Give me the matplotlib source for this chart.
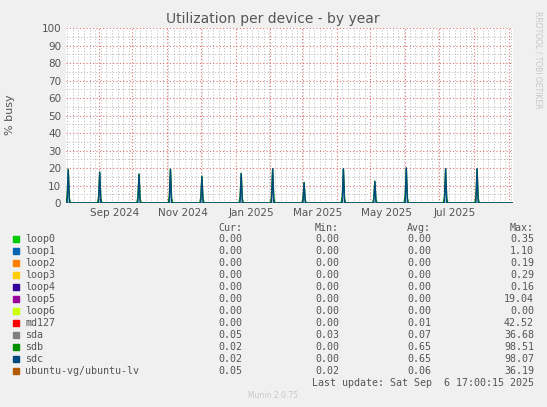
import matplotlib
matplotlib.use("Agg")
import matplotlib.pyplot as plt
import matplotlib.dates as mdates
import numpy as np
import datetime as dt

# --- data ---
spike_dates = ["2024-08-05", "2024-09-02", "2024-10-07", "2024-11-04", "2024-12-02",
               "2025-01-06", "2025-02-03", "2025-03-03", "2025-04-07", "2025-05-05",
               "2025-06-02", "2025-07-07", "2025-08-04"]
sdb_peaks = [19.4, 17.7, 16.6, 19.4, 15.4, 17.0, 19.4, 11.8, 19.4, 12.5, 20.0, 19.4, 19.4]
sdc_peaks = [19.0, 17.5, 16.4, 19.2, 15.0, 16.8, 19.6, 11.6, 19.6, 12.3, 20.0, 19.6, 19.6]
names = ["loop0", "loop1", "loop2", "loop3", "loop4", "loop5", "loop6", "md127",
         "sda", "sdb", "sdc", "ubuntu-vg/ubuntu-lv"]
colors = ["#00cc00", "#0066b3", "#ff8000", "#ffcc00", "#330099", "#990099",
          "#ccff00", "#ff0000", "#808080", "#008f00", "#00487d", "#b35a00"]
cur = ["0.00"] * 8 + ["0.05", "0.02", "0.02", "0.05"]
mins = ["0.00"] * 8 + ["0.03", "0.00", "0.00", "0.02"]
avgs = ["0.00"] * 7 + ["0.01", "0.07", "0.65", "0.65", "0.06"]
maxs = ["0.35", "1.10", "0.19", "0.29", "0.16", "19.04", "0.00", "42.52",
        "36.68", "98.51", "98.07", "36.19"]

start = dt.datetime(2024, 8, 3)
end = dt.datetime(2025, 9, 5)
days = [start + dt.timedelta(days=i) for i in range((end - start).days + 1)]
idx = {d.strftime("%Y-%m-%d"): i for i, d in enumerate(days)}
sdb = np.zeros(len(days)); sdc = np.zeros(len(days))
lv = np.full(len(days), 0.05); sda = np.full(len(days), 0.07)
for d, a, b in zip(spike_dates, sdb_peaks, sdc_peaks):
    i = idx[d]
    sdb[i] = a; sdc[i] = b
    sdb[i - 1] = a * 0.2; sdb[i + 1] = a * 0.15

fig = plt.figure(figsize=(5.47, 4.07), dpi=100, facecolor="#f0f0f0")
ax = fig.add_axes([66/547, 1-203/407, 447/547, 175/407])
ax.set_facecolor("white")
ax.plot(days, sda, color=colors[8], lw=1)
ax.plot(days, lv, color=colors[11], lw=1)
ax.plot(days, sdb, color=colors[9], lw=1)
ax.plot(days, sdc, color=colors[10], lw=1)
ax.set_xlim(start, end)
ax.set_ylim(0, 100)
ax.set_yticks(range(0, 101, 10))
ax.set_yticks(range(0, 101, 5), minor=True)
ax.xaxis.set_major_locator(mdates.MonthLocator())
ax.xaxis.set_minor_locator(mdates.DayLocator(interval=5))
ax.xaxis.set_major_formatter(plt.NullFormatter())
ax.grid(True, which="major", color="#e07070", ls=(0, (1, 2)), lw=0.8)
ax.grid(True, which="minor", color="#b8b8b8", ls=(0, (1, 2)), lw=0.7)
ax.set_axisbelow(True)
for s in ax.spines.values():
    s.set_visible(False)
ax.tick_params(which="both", length=0, labelsize=7.5, colors="#555555")
for y, m, lab in [(2024, 9, "Sep 2024"), (2024, 11, "Nov 2024"), (2025, 1, "Jan 2025"),
                  (2025, 3, "Mar 2025"), (2025, 5, "May 2025"), (2025, 7, "Jul 2025")]:
    ax.text(dt.datetime(y, m, 15), -3, lab, ha="center", va="top", fontsize=7.5, color="#555555")
fig.text(10/547, 1-115/407, "% busy", rotation=90, ha="center", va="center",
         fontsize=8, color="#555555")
fig.text(273/547, 1-19/407, "Utilization per device - by year", ha="center", va="center",
         fontsize=10, color="#555555")
fig.text(538/547, 1-60/407, "RRDTOOL / TOBI OETIKER", rotation=270, ha="center", va="center",
         fontsize=5.5, color="#c8c8c8")
mono = "DejaVu Sans Mono"
fs = 7.2
def fy(y): return 1 - y/407
for xr, h in [(242, "Cur:"), (339, "Min:"), (431, "Avg:"), (534, "Max:")]:
    fig.text(xr/547, fy(228), h, ha="right", va="center", family=mono, fontsize=fs, color="#555555")
for i, n in enumerate(names):
    y = 239 + 12 * i
    fig.patches.append(plt.Rectangle((13/547, fy(y + 3)), 6/547, 6/407, transform=fig.transFigure,
                                     color=colors[i]))
    fig.text(25/547, fy(y), n, ha="left", va="center", family=mono, fontsize=fs, color="#555555")
    for xr, v in [(242, cur[i]), (339, mins[i]), (431, avgs[i]), (534, maxs[i])]:
        fig.text(xr/547, fy(y), v, ha="right", va="center", family=mono, fontsize=fs, color="#555555")
fig.text(534/547, fy(383), "Last update: Sat Sep  6 17:00:15 2025", ha="right", va="center",
         family=mono, fontsize=fs, color="#555555")
fig.text(273/547, fy(396), "Munin 2.0.75", ha="center", va="center", fontsize=5.5, color="#c8c8c8")
fig.savefig("out.png", dpi=100, facecolor=fig.get_facecolor())
